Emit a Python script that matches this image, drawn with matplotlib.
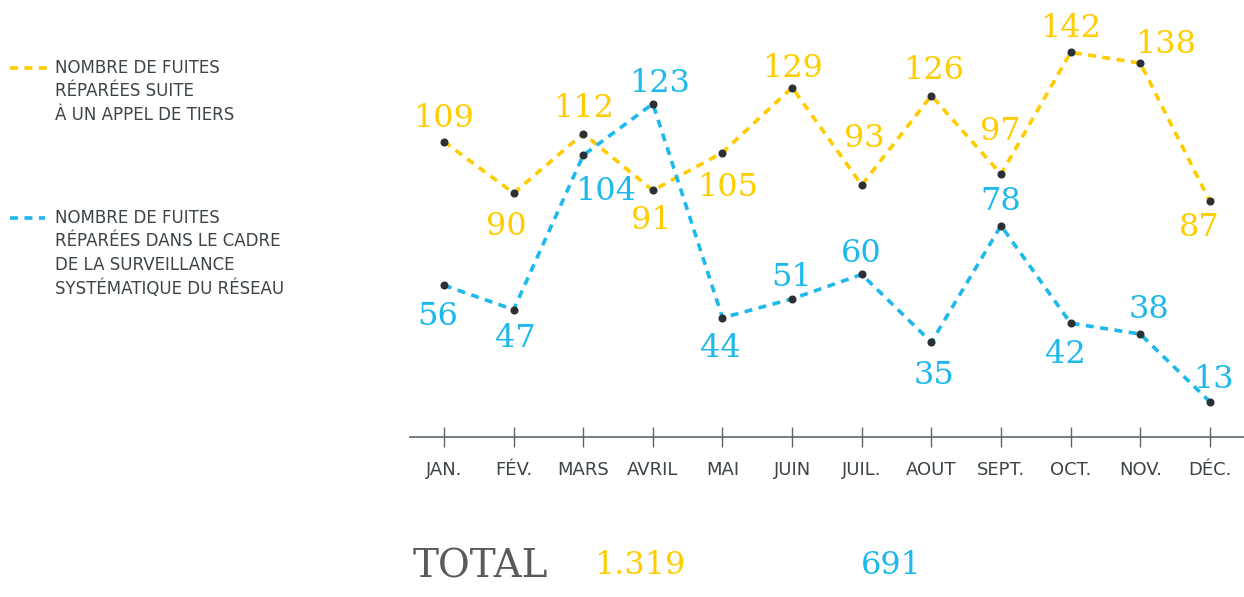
import matplotlib.pyplot as plt
from matplotlib.lines import Line2D

# data
months = ['JAN.', 'FÉV.', 'MARS', 'AVRIL', 'MAI', 'JUIN', 'JUIL.', 'AOUT', 'SEPT.', 'OCT.', 'NOV.', 'DÉC.']
tiers = [109, 90, 112, 91, 105, 129, 93, 126, 97, 142, 138, 87]
reseau = [56, 47, 104, 123, 44, 51, 60, 35, 78, 42, 38, 13]

legend_tiers = ['NOMBRE DE FUITES', 'RÉPARÉES SUITE', 'À UN APPEL DE TIERS']
legend_reseau = ['NOMBRE DE FUITES', 'RÉPARÉES DANS LE CADRE', 'DE LA SURVEILLANCE', 'SYSTÉMATIQUE DU RÉSEAU']

# label offsets in pixels (dx, dy up) of the value labels
off_tiers = [(0, 26), (-7, -30), (0, 28), (-2, -27), (5, -32), (0, 22),
             (3, 50), (2, 28), (-1, 46), (0, 27), (25, 22), (-11, -23)]
off_reseau = [(-6, -28), (2, -26), (22, -33), (7, 23), (-2, -28), (0, 24),
              (0, 24), (3, -30), (0, 27), (-5, -28), (9, 28), (4, 25)]

yellow = '#FFCC00'
blue = '#1DB9EC'
dark = '#2a3035'
grey = '#3d4449'

W, H = 1244, 597
fig = plt.figure(figsize=(W / 100, H / 100), dpi=100)
ax = fig.add_axes([410 / W, 1 - 437 / H, 834 / W, 437 / H])

x = list(range(len(months)))
ls = (0, (2.2, 1.8))
ax.plot(x, tiers, color=yellow, lw=2.6, linestyle=ls, zorder=2)
ax.plot(x, reseau, color=blue, lw=2.6, linestyle=ls, zorder=3)
ax.plot(x, tiers, 'o', color=dark, ms=4.8, zorder=4)
ax.plot(x, reseau, 'o', color=dark, ms=4.8, zorder=4)

for vals, offs, col in [(tiers, off_tiers, yellow), (reseau, off_reseau, blue)]:
    for i, v in enumerate(vals):
        dx, dy = offs[i]
        ax.annotate(str(v), (i, v), xytext=(dx, dy - 11.5), textcoords='offset pixels',
                    ha='center', va='baseline', color=col, fontsize=23,
                    family='DejaVu Serif', annotation_clip=False, zorder=5)

ax.set_xlim(-0.488, 11.49)
ax.set_ylim(0, 161.3)
for s in ['top', 'left', 'right']:
    ax.spines[s].set_visible(False)
ax.spines['bottom'].set_color('#5b6770')
ax.spines['bottom'].set_linewidth(1.2)
ax.set_yticks([])
ax.set_xticks(x)
ax.set_xticklabels(months, fontsize=13, color=grey, family='DejaVu Sans')
ax.tick_params(axis='x', direction='inout', length=14.4, width=1, color='#5b6770', pad=10)

# legend
def legend_block(lines, col, y0, x1):
    fig.add_artist(Line2D([10 / W, x1 / W], [1 - y0 / H, 1 - y0 / H], transform=fig.transFigure,
                          color=col, lw=2.6, linestyle=(0, (2.2, 1.8))))
    for k, t in enumerate(lines):
        fig.text(55 / W, 1 - (y0 + k * 23.5) / H, t, fontsize=12, color=grey,
                 family='DejaVu Sans', va='center')

legend_block(legend_tiers, yellow, 68, 52)
legend_block(legend_reseau, blue, 218, 45)

# totals
fig.text(413 / W, 1 - 577 / H, 'TOTAL', fontsize=28, color='#5a5a5a', family='DejaVu Serif', va='baseline')
fig.text(640 / W, 1 - 574 / H, '{:,}'.format(sum(tiers)).replace(',', '.'), fontsize=23,
         color=yellow, family='DejaVu Serif', ha='center', va='baseline')
fig.text(891 / W, 1 - 574 / H, str(sum(reseau)), fontsize=23,
         color=blue, family='DejaVu Serif', ha='center', va='baseline')

fig.savefig('out.png', dpi=100)
